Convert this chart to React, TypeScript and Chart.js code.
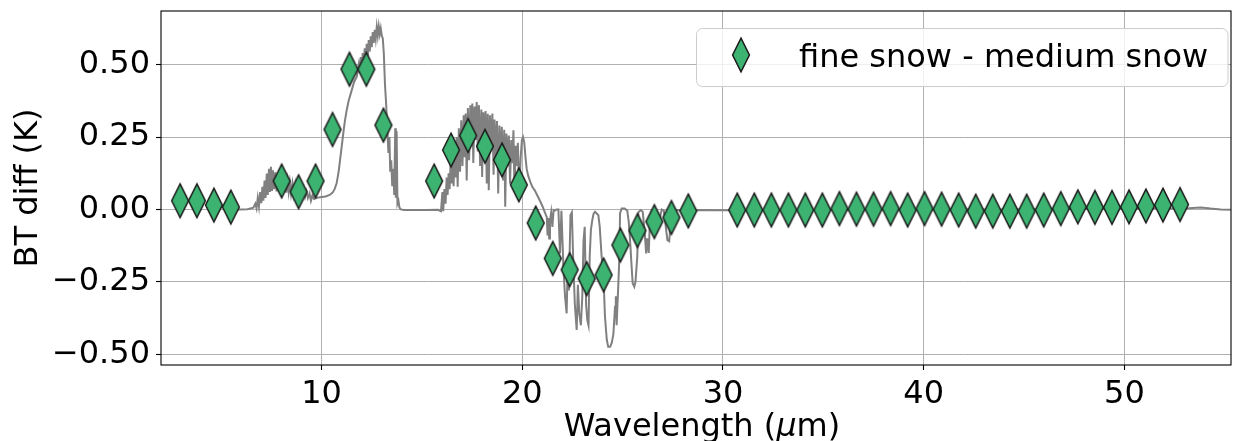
import { useEffect, useRef } from 'react';
import { Chart, registerables } from 'chart.js';

Chart.register(...registerables);

// Axis limits and tick values
const X_MIN = 2.0;
const X_MAX = 55.31;
const Y_MIN = -0.537;
const Y_MAX = 0.685;
const X_TICKS = [10, 20, 30, 40, 50];
const Y_TICKS = [-0.5, -0.25, 0, 0.25, 0.5];

const SERIES_LABEL = 'fine snow - medium snow';
const X_TITLE_PARTS = ['Wavelength (', 'μ', 'm)'];
const Y_TITLE = 'BT diff (K)';

// Band-averaged brightness temperature differences (channel centre in µm, value in K)
const BAND_CENTERS = [
  2.95, 3.79, 4.635, 5.48,
  8.01, 8.855, 9.70, 10.545, 11.39, 12.23, 13.08,
  15.61, 16.45, 17.30, 18.14, 18.99, 19.83, 20.67, 21.52, 22.36, 23.21, 24.05, 24.89, 25.74, 26.58, 27.43, 28.27,
  30.71, 31.56, 32.41, 33.26, 34.10, 34.95, 35.80, 36.65, 37.50, 38.35, 39.20, 40.04, 40.89, 41.74, 42.59,
  43.44, 44.29, 45.13, 45.98, 46.83, 47.68, 48.53, 49.38, 50.23, 51.07, 51.92, 52.77,
];
const BAND_DIFF = [
  0.030, 0.030, 0.015, 0.008,
  0.098, 0.061, 0.098, 0.276, 0.484, 0.484, 0.291,
  0.098, 0.205, 0.255, 0.218, 0.171, 0.085, -0.047, -0.169, -0.208, -0.239, -0.226, -0.123, -0.073, -0.042, -0.028, -0.005,
  -0.002, -0.002, -0.002, -0.002, -0.002, -0.002, 0.003, 0.001, 0.001, 0.003, -0.002, 0.003, 0.001, -0.002, -0.006,
  -0.006, -0.006, -0.006, -0.002, 0.003, 0.009, 0.007, 0.007, 0.009, 0.012, 0.015, 0.017,
];

// High-resolution spectrum of the same difference
const SPECTRUM_WL = [
  5.4, 5.9, 6.3, 6.6,
  6.70, 6.76, 6.82, 6.88, 6.94, 7.00, 7.05, 7.10, 7.16, 7.21, 7.27, 7.32, 7.38, 7.43, 7.48, 7.53,
  7.58, 7.64, 7.70, 7.76, 7.82, 7.88, 7.94, 8.00, 8.06, 8.12, 8.18, 8.24, 8.30, 8.36, 8.42, 8.48,
  8.55, 8.62, 8.69, 8.76, 8.83, 8.90, 8.97, 9.04, 9.11, 9.18, 9.25, 9.32, 9.40, 9.47, 9.54, 9.62,
  9.75, 10.0, 10.2, 10.4, 10.55, 10.65, 10.75, 10.85, 10.92, 11.00, 11.08, 11.16, 11.25, 11.35, 11.50, 11.62, 11.75,
  11.80, 11.85, 11.90, 11.95, 12.00, 12.05, 12.10, 12.15, 12.20, 12.25, 12.30, 12.35, 12.40, 12.45, 12.50, 12.55,
  12.60, 12.65, 12.70, 12.75, 12.80, 12.85, 12.90, 12.95, 13.00, 13.05, 13.10, 13.16, 13.22, 13.28, 13.33, 13.38,
  13.42, 13.47, 13.52, 13.57, 13.62, 13.67, 13.70, 13.74, 13.78, 13.83, 13.88, 13.95,
  14.1, 14.6, 15.2, 15.8, 15.95,
  16.02, 16.06, 16.12, 16.18, 16.23, 16.28, 16.33, 16.38, 16.43, 16.48, 16.53, 16.58, 16.63, 16.68, 16.73, 16.78,
  16.84, 16.90, 16.96, 17.02, 17.08, 17.13, 17.18, 17.23, 17.29, 17.35, 17.41, 17.46, 17.51, 17.56, 17.62, 17.67,
  17.73, 17.78, 17.84, 17.90, 17.96, 18.00, 18.06, 18.12, 18.17, 18.23, 18.28, 18.33, 18.39, 18.45, 18.51, 18.57,
  18.62, 18.68, 18.74, 18.80, 18.86, 18.92, 18.98, 19.04, 19.10, 19.15, 19.21, 19.27, 19.33, 19.39, 19.45, 19.50,
  19.56, 19.61, 19.67, 19.72, 19.78, 19.85, 19.92, 19.98, 20.04, 20.10, 20.16, 20.22, 20.30, 20.40, 20.50, 20.62,
  20.75, 20.88, 21.00, 21.10, 21.18, 21.22, 21.26, 21.30, 21.34, 21.38, 21.44, 21.50, 21.56, 21.62, 21.71, 21.80,
  21.88, 21.95, 22.05, 22.13, 22.21, 22.26, 22.32, 22.40, 22.47, 22.54, 22.62, 22.71, 22.77, 22.84, 22.92, 22.99,
  23.05, 23.11, 23.18, 23.24, 23.30, 23.36, 23.42, 23.48, 23.55, 23.62, 23.71, 23.79, 23.86, 23.95, 24.04, 24.12,
  24.21, 24.28, 24.38, 24.46, 24.54, 24.62, 24.66, 24.70, 24.76, 24.84, 24.87, 24.95, 25.10, 25.23, 25.30, 25.37,
  25.45, 25.50, 25.58, 25.64, 25.73, 25.78, 25.90, 26.00, 26.10, 26.17, 26.22, 26.30, 26.36, 26.45, 26.60, 26.75,
  26.85, 26.95, 27.05, 27.15, 27.23, 27.32, 27.40, 27.45, 27.70, 28.00, 28.69,
  30.0, 32.0, 34.0, 36.0, 38.0, 40.0, 42.0, 44.0, 46.0, 48.0, 50.0, 52.0, 53.2, 53.8, 54.3, 54.8, 55.3,
];
const SPECTRUM_DIFF = [
  0.000, 0.000, 0.001, 0.006,
  0.020, 0.004, 0.040, 0.010, 0.060, 0.022, 0.078, 0.030, 0.100, 0.040, 0.124, 0.050, 0.140, 0.060, 0.147, 0.064,
  0.135, 0.070, 0.128, 0.062, 0.118, 0.068, 0.112, 0.060, 0.108, 0.064, 0.104, 0.058, 0.098, 0.060, 0.094, 0.055,
  0.090, 0.052, 0.086, 0.050, 0.080, 0.048, 0.076, 0.046, 0.070, 0.044, 0.062, 0.040, 0.055, 0.030, 0.048, 0.036,
  0.040, 0.043, 0.045, 0.050, 0.058, 0.070, 0.090, 0.130, 0.170, 0.215, 0.262, 0.305, 0.342, 0.375, 0.411, 0.440, 0.457,
  0.480, 0.500, 0.470, 0.526, 0.490, 0.540, 0.500, 0.556, 0.515, 0.572, 0.530, 0.585, 0.545, 0.598, 0.560, 0.612,
  0.575, 0.620, 0.590, 0.630, 0.600, 0.632, 0.605, 0.625, 0.600, 0.590, 0.540, 0.430, 0.360, 0.270, 0.195, 0.250,
  0.130, 0.170, 0.080, 0.140, 0.050, 0.280, 0.040, 0.270, 0.020, 0.030, 0.006, 0.000,
  -0.002, -0.002, -0.002, -0.001, -0.006,
  0.060, -0.006, 0.070, 0.020, 0.110, 0.050, 0.125, 0.070, 0.165, 0.090, 0.200, 0.080, 0.225, 0.110, 0.250, 0.078,
  0.280, 0.130, 0.308, 0.150, 0.325, 0.180, 0.331, 0.100, 0.350, 0.170, 0.360, 0.220, 0.366, 0.160, 0.355, 0.240,
  0.371, 0.200, 0.360, 0.150, 0.345, 0.112, 0.335, 0.200, 0.340, 0.090, 0.330, 0.066, 0.325, 0.210, 0.331, 0.120,
  0.310, 0.170, 0.305, 0.055, 0.290, 0.160, 0.285, 0.100, 0.275, 0.009, 0.262, 0.150, 0.255, 0.090, 0.240, 0.160,
  0.273, 0.060, 0.220, 0.150, 0.230, 0.055, 0.180, 0.240, 0.250, 0.230, 0.180, 0.140, 0.115, 0.095, 0.078, 0.066,
  0.048, 0.030, 0.012, -0.006, -0.020, -0.026, -0.090, -0.030, -0.100, -0.040, -0.010, -0.060, -0.002, -0.004, 0.000, 0.000,
  -0.152, -0.005, -0.200, -0.300, -0.359, -0.200, -0.280, -0.020, -0.010, -0.180, -0.330, -0.416, -0.260, -0.360, -0.400, -0.300,
  -0.110, -0.060, -0.330, -0.382, -0.400, -0.160, -0.070, -0.040, -0.015, -0.008, -0.014, -0.020, -0.060, -0.160, -0.221, -0.370,
  -0.450, -0.474, -0.474, -0.460, -0.430, -0.336, -0.300, -0.400, -0.300, -0.163, -0.014, 0.003, 0.003, -0.004, -0.040, -0.106,
  -0.200, -0.255, -0.267, -0.250, -0.163, -0.010, -0.002, -0.008, -0.080, -0.152, -0.100, -0.150, -0.040, -0.005, 0.000, -0.015,
  -0.030, 0.000, -0.004, -0.060, -0.106, -0.110, -0.040, 0.000, -0.002, -0.004, -0.002,
  -0.003, -0.003, -0.002, -0.002, -0.001, -0.001, 0.000, 0.000, 0.001, 0.002, 0.002, 0.003, 0.004, 0.007, 0.003, 0.000, -0.001,
];

const FONT_FAMILY = '"DejaVu Sans", sans-serif';
const FONT_SIZE = 32;

function makeThinDiamond(): HTMLCanvasElement {
  const c = document.createElement('canvas');
  c.width = 22;
  c.height = 40;
  const g = c.getContext('2d')!;
  const cx = 11;
  const cy = 20;
  const hw = 8.4;
  const hh = 16.8;
  g.beginPath();
  g.moveTo(cx, cy - hh);
  g.lineTo(cx + hw, cy);
  g.lineTo(cx, cy + hh);
  g.lineTo(cx - hw, cy);
  g.closePath();
  g.fillStyle = '#3cb371';
  g.fill();
  g.lineWidth = 1.5;
  g.lineJoin = 'miter';
  g.strokeStyle = '#1a1a1a';
  g.stroke();
  return c;
}

export default function App() {
  const canvasRef = useRef<HTMLCanvasElement | null>(null);

  useEffect(() => {
    const canvas = canvasRef.current;
    if (!canvas) return;
    const diamond = makeThinDiamond();

    const markerData = BAND_CENTERS.map((x, i) => ({ x, y: BAND_DIFF[i] }));
    const spectrumData = SPECTRUM_WL.map((x, i) => ({ x, y: SPECTRUM_DIFF[i] }));

    // Axes frame, legend box and x-axis title (with an italic mu)
    const decorations = {
      id: 'decorations',
      afterDatasetsDraw(chart: any) {
        const { ctx, chartArea: a } = chart;
        ctx.save();
        ctx.strokeStyle = '#000';
        ctx.lineWidth = 1.1;
        ctx.strokeRect(a.left, a.top, a.right - a.left, a.bottom - a.top);
        ctx.restore();
      },
      afterDraw(chart: any) {
        const { ctx, chartArea: a } = chart;
        ctx.save();
        // legend
        const lx = a.right - 534.5;
        const ly = a.top + 17.5;
        const lw = 531.5;
        const lh = 58;
        ctx.beginPath();
        (ctx as any).roundRect(lx, ly, lw, lh, 6);
        ctx.fillStyle = 'rgba(255,255,255,0.8)';
        ctx.fill();
        ctx.strokeStyle = '#cccccc';
        ctx.lineWidth = 1;
        ctx.stroke();
        ctx.drawImage(diamond, lx + 44.5 - diamond.width / 2, ly + 26.5 - diamond.height / 2);
        ctx.font = `${FONT_SIZE}px ${FONT_FAMILY}`;
        ctx.fillStyle = '#000';
        ctx.textBaseline = 'alphabetic';
        ctx.textAlign = 'left';
        ctx.fillText(SERIES_LABEL, lx + 102.5, ly + 38.5);

        // x-axis title
        const normal = `${FONT_SIZE}px ${FONT_FAMILY}`;
        const italic = `italic ${FONT_SIZE}px ${FONT_FAMILY}`;
        const fonts = [normal, italic, normal];
        const widths = X_TITLE_PARTS.map((t, i) => {
          ctx.font = fonts[i];
          return ctx.measureText(t).width;
        });
        const total = widths.reduce((s, w) => s + w, 0);
        let x = (a.left + a.right) / 2 + 6 - total / 2;
        const baseline = 436;
        X_TITLE_PARTS.forEach((t, i) => {
          ctx.font = fonts[i];
          ctx.fillText(t, x, baseline);
          x += widths[i];
        });
        ctx.restore();
      },
    };

    const chart = new Chart(canvas, {
      type: 'scatter',
      data: {
        datasets: [
          {
            label: SERIES_LABEL,
            data: markerData,
            pointStyle: diamond as any,
            pointRadius: 10,
            showLine: false,
            order: 0,
          },
          {
            label: 'spectrum',
            data: spectrumData,
            showLine: true,
            borderColor: '#808080',
            borderWidth: 2,
            pointRadius: 0,
            fill: false,
            tension: 0,
            order: 1,
          },
        ],
      },
      options: {
        animation: false,
        responsive: false,
        devicePixelRatio: 1,
        events: [],
        layout: { padding: { left: 0, right: 2, top: 11, bottom: 0 }, autoPadding: false } as any,
        plugins: {
          legend: { display: false },
          tooltip: { enabled: false },
        },
        scales: {
          x: {
            type: 'linear',
            min: X_MIN,
            max: X_MAX,
            afterFit: (s: any) => {
              s.height = 76;
              s.paddingLeft = 0;
              s.paddingRight = 0;
            },
            afterBuildTicks: (s: any) => {
              s.ticks = X_TICKS.map((value) => ({ value }));
            },
            border: { display: false },
            grid: {
              color: '#b0b0b0',
              lineWidth: 1,
              drawTicks: true,
              tickLength: 5,
              tickColor: '#000',
              tickWidth: 1.1,
            },
            ticks: {
              padding: 5,
              color: '#000',
              font: { family: FONT_FAMILY, size: FONT_SIZE },
              maxRotation: 0,
              callback: (v: any) => String(v),
            },
          },
          y: {
            type: 'linear',
            min: Y_MIN,
            max: Y_MAX,
            afterFit: (s: any) => {
              s.width = 161;
              s.paddingTop = 0;
              s.paddingBottom = 0;
            },
            afterBuildTicks: (s: any) => {
              s.ticks = Y_TICKS.map((value) => ({ value }));
            },
            border: { display: false },
            grid: {
              color: '#b0b0b0',
              lineWidth: 1,
              drawTicks: true,
              tickLength: 5,
              tickColor: '#000',
              tickWidth: 1.1,
            },
            ticks: {
              padding: 6,
              color: '#000',
              font: { family: FONT_FAMILY, size: FONT_SIZE },
              callback: (v: any) => {
                const n = Number(v);
                return (n < 0 ? '\u2212' : '') + Math.abs(n).toFixed(2);
              },
            },
            title: {
              display: true,
              text: Y_TITLE,
              color: '#000',
              font: { family: FONT_FAMILY, size: FONT_SIZE },
              padding: { top: 9, bottom: 0 },
            },
          },
        },
      },
      plugins: [decorations],
    });

    return () => {
      chart.destroy();
    };
  }, []);

  return (
    <div style={{ position: 'fixed', left: 0, top: 0, width: 1233, height: 441, background: '#fff' }}>
      <canvas ref={canvasRef} width={1233} height={441} style={{ display: 'block' }} />
    </div>
  );
}
